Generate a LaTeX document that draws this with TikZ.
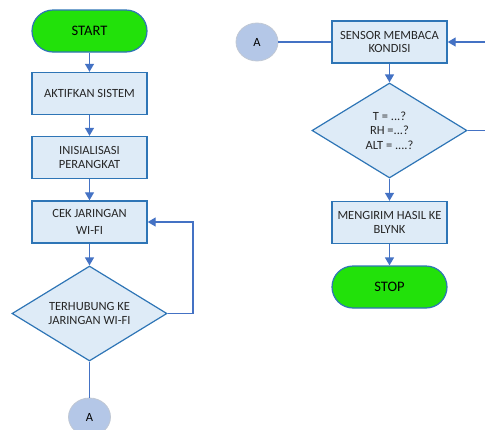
\documentclass[tikz,border=0pt]{standalone}
\usepackage{fontspec}
\setmainfont{Carlito}
\usetikzlibrary{shapes.geometric,arrows.meta}
\definecolor{boxfill}{HTML}{DEEBF7}
\definecolor{boxline}{HTML}{2E75B6}
\definecolor{arrowc}{HTML}{4472C4}
\definecolor{termfill}{HTML}{22E10A}
\definecolor{connfill}{HTML}{B4C7E7}
\definecolor{connline}{HTML}{C0C8D4}
\definecolor{txt}{HTML}{262626}
\tikzset{
  procbox/.style={draw=boxline, fill=boxfill, line width=1.4pt, minimum width=115pt, minimum height=42pt, inner sep=0pt, align=center, text=txt, font=\fontsize{12.5}{13.8}\selectfont},
  termbox/.style={draw=boxline, fill=termfill, line width=1.2pt, rounded corners=21pt, minimum width=115pt, minimum height=42pt, inner sep=0pt, align=center, text=black, font=\fontsize{14.5}{16}\selectfont},
  decbox/.style={diamond, draw=boxline, fill=boxfill, line width=1.2pt, aspect=1.63, minimum width=155pt, minimum height=95pt, inner sep=0pt, align=center, text=txt, font=\fontsize{12.5}{14.3}\selectfont},
  connbox/.style={ellipse, draw=connline, fill=connfill, line width=0.8pt, minimum width=42pt, minimum height=38pt, inner sep=0pt, text=black, font=\fontsize{12.5}{14}\selectfont},
  flow/.style={draw=arrowc, line width=1.3pt, -{Triangle[width=9pt,length=8pt]}},
  plain/.style={draw=arrowc, line width=1.3pt},
}
\begin{document}
\begin{tikzpicture}[x=1pt,y=-1pt]
\useasboundingbox (0,0) rectangle (485,429);
\begin{scope}
\clip (0,0) rectangle (485,429);
% left column
\node[termbox] (start) at (89.5,31) {START};
\node[procbox] (aktif) at (89.5,93.5) {AKTIFKAN SISTEM};
\node[procbox] (init) at (89.5,157.5) {INISIALISASI\\PERANGKAT};
\node[procbox, font=\fontsize{12.5}{16.7}\selectfont] (cek) at (89.5,222) {CEK JARINGAN\\WI-FI};
\node[decbox] (hub) at (89.5,313.5) {TERHUBUNG KE\\JARINGAN WI-FI};
\node[connbox] (a1) at (89.5,417) {A};
\draw[flow] (start) -- (aktif);
\draw[flow] (aktif) -- (init);
\draw[flow] (init) -- (cek);
\draw[flow] (cek) -- (hub);
\draw[plain] (hub.south) -- (a1.north);
\coordinate (l1) at (193,313.5);
\coordinate (l2) at (193,222);
\draw[flow] (hub.east) -- (l1) -- (l2) -- (cek.east);
% right column
\node[connbox] (a2) at (257,42) {A};
\node[procbox] (sens) at (389.5,42) {SENSOR MEMBACA\\KONDISI};
\node[decbox] (cond) at (389.5,130.5) {T = ...?\\RH =...?\\ALT = ....?};
\node[procbox] (kirim) at (389.5,222.5) {MENGIRIM HASIL KE\\BLYNK};
\node[termbox] (stop) at (389.5,287) {STOP};
\draw[plain] (a2.east) -- (sens.west);
\draw[flow] (sens) -- (cond);
\draw[flow] (cond) -- (kirim);
\draw[flow] (kirim) -- (stop);
\coordinate (r1) at (490,130.5);
\coordinate (r2) at (490,42);
\draw[flow] (cond.east) -- (r1) -- (r2) -- (sens.east);
\end{scope}
\end{tikzpicture}
\end{document}
